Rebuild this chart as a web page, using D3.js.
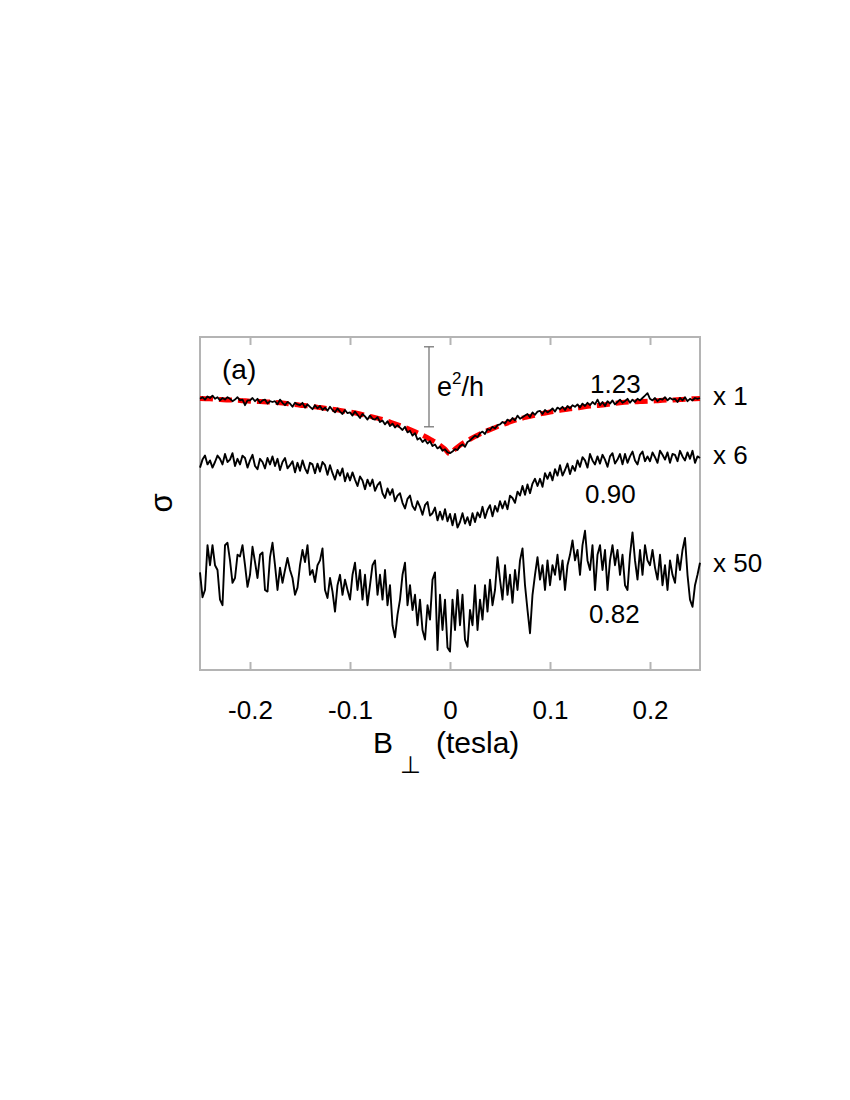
<!DOCTYPE html>
<html>
<head>
<meta charset="utf-8">
<script src="https://cdn.jsdelivr.net/npm/d3@7"></script>
<style>
  html, body { margin: 0; padding: 0; background: #fff; }
  text { font-family: "Liberation Sans", Arial, sans-serif; fill: #000; }
</style>
</head>
<body>
<svg id="chart" width="850" height="1100"></svg>
<script>
// ---------- DATA ----------
// Field axis (tesla): sampled every 2.5 mT from -0.25 to 0.25
const fieldStart = -0.25, fieldStep = 0.0025, fieldCount = 201;
const field = d3.range(fieldCount).map(i => +(fieldStart + i * fieldStep).toFixed(4));

const tickValues = [-0.2, -0.1, 0, 0.1, 0.2];
const tickLabels = ["-0.2", "-0.1", "0", "0.1", "0.2"];

// Conductance traces, displayed values (already multiplied), units of 0.01 e^2/h
const trace1 = [ // 1.23, x 1
 -1, 1, -2, 2, 0, 3, -1, 1, -3, 0,
 -2, 1, -1, -4, -2, 1, -3, -2, -9, -3,
 -3, 0, -4, -1, -6, -3, -2, -7, -4, -5,
 -4, -8, -2, -6, -9, -5, -7, -11, -6, -8,
 -9, -6, -12, -8, -11, -14, -9, -13, -10, -15,
 -12, -16, -11, -15, -18, -13, -17, -20, -15, -19,
 -18, -22, -17, -21, -25, -20, -23, -27, -22, -26,
 -27, -24, -30, -28, -33, -29, -35, -32, -37, -34,
 -37, -40, -36, -43, -41, -47, -44, -52, -50, -55,
 -52, -57, -54, -60, -58, -63, -61, -66, -64, -68,
 -69, -67, -64, -65, -60, -58, -61, -55, -53, -50,
 -47, -49, -44, -42, -45, -39, -40, -36, -38, -34,
 -33, -30, -32, -27, -29, -25, -28, -22, -26, -24,
 -22, -20, -24, -18, -21, -17, -16, -20, -15, -18,
 -16, -13, -17, -12, -14, -11, -15, -10, -13, -9,
 -11, -8, -12, -7, -10, -6, -9, -5, -8, -2,
 -9, -5, -10, -4, -7, -3, -8, -5, -2, -6,
 -4, -1, -6, -2, -5, -1, -3, 0, 3, 6,
 -1, -3, 0, -4, -1, -2, 1, -3, 0, -2,
 -1, -5, 0, -3, 1, -4, -1, -3, 0, -1, 0
];
const trace2 = [ // 0.90, x 6
 -7, 3, 8, -3, 2, -7, 0, 8, 4, -3,
 10, 0, 3, 11, -5, 4, -3, 8, 5, -7,
 2, 9, -5, -9, 4, 0, -8, 5, -3, 7,
 -5, 4, -10, 0, 5, -8, -4, 1, -13, -1,
 -11, 2, -8, -14, -1, -3, -14, -2, -12, 0,
 -4, -16, -4, -14, -22, -10, -17, -8, -24, -14,
 -23, -13, -22, -30, -18, -23, -34, -22, -30, -22,
 -36, -29, -25, -39, -45, -33, -41, -34, -49, -42,
 -39, -51, -58, -46, -42, -55, -60, -49, -56, -66,
 -54, -50, -67, -64, -57, -73, -62, -72, -59, -74,
 -65, -79, -65, -82, -75, -64, -77, -69, -79, -64,
 -75, -63, -69, -56, -70, -60, -54, -68, -55, -62,
 -49, -58, -49, -59, -42, -45, -51, -37, -42, -30,
 -41, -28, -39, -27, -21, -30, -21, -31, -14, -21,
 -13, -23, -9, -17, -4, -17, -10, -2, -15, -5,
 -11, 2, -6, 6, 2, -7, 10, 2, -3, 7,
 -2, 9, 3, -6, 7, 11, -2, 3, 10, -3,
 10, -1, 7, 13, 2, -3, 9, 13, 1, 7,
 1, 12, 6, -1, 14, 9, 3, 12, -1, 10,
 9, 1, 14, 7, 2, 12, 4, 14, -1, 7, 5
];
const trace3 = [ // 0.82, x 50
 2, -29, -20, 36, 11, 36, 11, 5, -32, -39,
 36, 39, 17, -11, -5, 24, 22, 36, 11, -16,
 -1, 34, 15, -5, 24, 27, -20, -22, 21, 39,
 11, -20, 8, -11, 5, 20, 5, -5, -26, -17,
 11, 30, 15, 36, -1, 5, -10, 11, 17, 32,
 -20, -30, -5, -22, -47, -14, -1, -26, -7, -20,
 -32, -1, 14, -20, 5, -32, -1, -39, -14, 11,
 17, -26, -1, -32, 5, -39, -14, -64, -79, -51,
 -32, -1, 14, -39, -14, -45, -26, -64, -32, -70,
 -82, -39, -57, -7, 2, -95, -26, -70, -32, -92,
 -97, -32, -70, -20, -64, -26, -82, -91, -45, -64,
 -14, -70, -32, -57, -14, -47, -7, -39, -20, 21,
 -7, -32, 11, -26, -1, -36, 5, -20, 17, 32,
 -14, -45, -74, -26, -1, 21, -7, 11, -20, 17,
 -14, 11, -1, 24, -7, 17, -20, 11, 24, 42,
 17, 30, -1, 36, 54, 17, 5, 36, -20, 24,
 36, 5, 30, -20, 17, 36, 11, 30, -1, 24,
 -14, -20, 24, 52, 17, -7, 30, -1, 36, 17,
 11, 30, 8, -7, 24, -14, 11, -20, 17, -1,
 -11, 24, 5, 30, 45, -1, -32, -41, -14, -1, 14
];

// Fit to the top trace (red dashed)
const fitField = [-0.25,-0.24,-0.23,-0.22,-0.21,-0.20,-0.19,-0.18,-0.17,-0.16,-0.15,-0.14,-0.13,-0.12,-0.11,-0.10,-0.09,-0.08,-0.07,-0.06,-0.05,-0.04,-0.03,-0.02,-0.01,-0.005,0,
  0.005,0.01,0.02,0.03,0.04,0.05,0.06,0.07,0.08,0.09,0.10,0.11,0.12,0.13,0.14,0.15,0.16,0.17,0.18,0.19,0.20,0.21,0.22,0.23,0.24,0.25];
const fitValues = [-0.5,-1,-2,-2.5,-3,-4,-4.5,-5,-6,-7.5,-9,-10,-12,-13.5,-15.5,-17.5,-20,-23,-26,-30,-34.5,-39.5,-45,-51.5,-59,-64,-70,
  -64,-59,-51.5,-45,-39.5,-34.5,-30,-26,-23,-20,-17.5,-15.5,-13.5,-12,-10,-9,-7.5,-6,-5,-4.5,-4,-3,-2.5,-2,-1,-0.5];

const traceNames = ["x 1", "x 6", "x 50"];
const traceOffsets = [0, -80, -220];         // vertical offsets, 0.01 e^2/h
const traceTemps = ["1.23", "0.90", "0.82"];

// ---------- CHART ----------
const svg = d3.select("#chart");
svg.append("rect").attr("width", 850).attr("height", 1100).attr("fill", "#fff");

const plot = { left: 200, right: 700, top: 337, bottom: 670 };
const x = d3.scaleLinear().domain([-0.25, 0.25]).range([plot.left, plot.right]);
const y = d3.scaleLinear().domain([-340, 76.25]).range([plot.bottom, plot.top]);

const gray = "#b4b4b4";

// axes (inward ticks, top and bottom)
const axB = svg.append("g").attr("transform", `translate(0,${plot.bottom})`)
  .call(d3.axisBottom(x).tickValues(tickValues).tickSize(-8).tickPadding(31)
    .tickFormat((d, i) => tickLabels[i]));
axB.select(".domain").remove();
axB.selectAll(".tick line").attr("stroke", gray).attr("stroke-width", 2);
axB.selectAll(".tick text").style("font-size", "26px").attr("font-family", "Liberation Sans, Arial, sans-serif").attr("fill", "#000");

const axT = svg.append("g").attr("transform", `translate(0,${plot.top})`)
  .call(d3.axisTop(x).tickValues(tickValues).tickSize(-8).tickFormat(""));
axT.select(".domain").remove();
axT.selectAll(".tick line").attr("stroke", gray).attr("stroke-width", 2);

// frame
svg.append("rect").attr("x", plot.left).attr("y", plot.top)
  .attr("width", plot.right - plot.left).attr("height", plot.bottom - plot.top)
  .attr("fill", "none").attr("stroke", gray).attr("stroke-width", 2);

// fit
const fitLine = d3.line().x((d, i) => x(fitField[i])).y(d => y(d)).curve(d3.curveMonotoneX);
svg.append("path").datum(fitValues).attr("d", fitLine)
  .attr("fill", "none").attr("stroke", "#ff0000").attr("stroke-width", 5)
  .attr("stroke-dasharray", "13,6");

// traces
const traces = [trace1, trace2, trace3];
const widths = [1.8, 1.9, 1.9];
traces.forEach((tr, k) => {
  const line = d3.line().x((d, i) => x(field[i])).y(d => y(d + traceOffsets[k]));
  svg.append("path").datum(tr).attr("d", line)
    .attr("fill", "none").attr("stroke", "#000").attr("stroke-width", widths[k])
    .attr("stroke-linejoin", "round");
});

// scale bar e^2/h (100 units = 1 e^2/h)
const sbX = x(-0.021);
const sbTop = y(64), sbBot = y(-36);
const sb = svg.append("g").attr("stroke", "#777").attr("stroke-width", 1.3);
sb.append("line").attr("x1", sbX).attr("x2", sbX).attr("y1", sbTop).attr("y2", sbBot);
sb.append("line").attr("x1", sbX - 5).attr("x2", sbX + 5).attr("y1", sbTop).attr("y2", sbTop);
sb.append("line").attr("x1", sbX - 5).attr("x2", sbX + 5).attr("y1", sbBot).attr("y2", sbBot);

const eh = svg.append("text").attr("x", 437).attr("y", 396).style("font-size", "27px");
eh.append("tspan").text("e");
eh.append("tspan").attr("dy", -12).style("font-size", "17px").text("2");
eh.append("tspan").attr("dy", 12).text("/h");

// panel label
svg.append("text").attr("x", 222).attr("y", 379).style("font-size", "28px").text("(a)");

// temperature labels
const tempPos = [[590, 393], [585, 503], [589, 623]];
traceTemps.forEach((t, k) => {
  svg.append("text").attr("x", tempPos[k][0]).attr("y", tempPos[k][1]).style("font-size", "26px").text(t);
});

// magnification labels
const magY = [405, 464, 572];
traceNames.forEach((t, k) => {
  svg.append("text").attr("x", 713).attr("y", magY[k]).style("font-size", "26px").text(t);
});

// axis titles
svg.append("text").attr("x", 393).attr("y", 753).attr("text-anchor", "end").style("font-size", "30px").text("B");
svg.append("text").attr("x", 410).attr("y", 773).attr("text-anchor", "middle").style("font-size", "24px").text("⊥");
svg.append("text").attr("x", 436).attr("y", 753).style("font-size", "30px").text("(tesla)");

svg.append("text").attr("transform", "translate(172,503) rotate(-90)")
  .attr("text-anchor", "middle").style("font-size", "31px").text("σ");
</script>
</body>
</html>
